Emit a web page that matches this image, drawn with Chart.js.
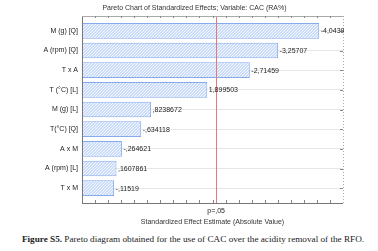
<!DOCTYPE html>
<html>
<head>
<meta charset="utf-8">
<script src="https://cdn.jsdelivr.net/npm/chart.js@4"></script>
<style>
  body { margin: 0; background: #fff; width: 378px; height: 251px; overflow: hidden; position: relative; }
  #wrap { position: absolute; left: 0; top: 0; width: 378px; height: 230px; }
  #caption { position: absolute; left: 0; width: 378px; top: 234px; text-align: center; padding-left: 4px;
    font-family: "Liberation Serif", serif; font-size: 9.2px; color: #222; white-space: nowrap; }
</style>
</head>
<body>
<div id="wrap"><canvas id="chart"></canvas></div>
<div id="caption"><b>Figure S5.</b> Pareto diagram obtained for the use of CAC over the acidity removal of the RFO.</div>
<script>
// effect terms, top to bottom
const terms = ["M (g) [Q]", "A (rpm) [Q]", "T x A", "T (°C) [L]", "M (g) [L]", "T(°C) [Q]", "A x M", "A (rpm) [L]", "T x M"]
// standardized effects (signed)
const effects = [-4.0439, -3.25707, -2.71459, 1.899503, 0.8238672, -0.634118, -0.264621, 0.1607861, -0.11519]
const xMin = -0.5
const xMax = 4.5
const pCrit = 2.069 // p=,05 line

const fmt = v => String(v).replace(".", ",").replace(/^(-?)0,/, "$1,")

function hatch() {
  const c = document.createElement("canvas")
  c.width = 3
  c.height = 3
  const g = c.getContext("2d")
  g.fillStyle = "#cadcfa"
  g.fillRect(0, 0, 3, 3)
  g.fillStyle = "#f4f8ff"
  for (let px = 0; px < 3; px++) {
    for (let py = 0; py < 3; py++) {
      if ((px + py) % 3 === 2) g.fillRect(px, py, 1, 1)
    }
  }
  return g.createPattern(c, "repeat")
}

// frame, minor ticks, critical line and value labels
const frame = {
  id: "frame",
  afterDatasetsDraw(chart) {
    const { ctx, chartArea: a, scales: { x, y } } = chart
    const top = a.top - 5, bottom = a.bottom + 5
    ctx.save()
    // red p line
    const px = Math.round(x.getPixelForValue(pCrit)) + 0.5
    ctx.strokeStyle = "#e8777a"
    ctx.lineWidth = 1
    ctx.beginPath(); ctx.moveTo(px, top); ctx.lineTo(px, bottom); ctx.stroke()
    // borders
    ctx.strokeStyle = "#777"
    ctx.beginPath()
    ctx.moveTo(a.left + 0.5, top); ctx.lineTo(a.left + 0.5, bottom)
    ctx.moveTo(a.left, bottom + 0.5); ctx.lineTo(a.right, bottom + 0.5)
    ctx.stroke()
    ctx.strokeStyle = "#aaa"
    ctx.beginPath(); ctx.moveTo(a.left, top + 0.5); ctx.lineTo(a.right, top + 0.5); ctx.stroke()
    ctx.setLineDash([1, 2])
    ctx.beginPath(); ctx.moveTo(a.right + 0.5, top); ctx.lineTo(a.right + 0.5, bottom); ctx.stroke()
    ctx.setLineDash([])
    // minor ticks
    ctx.strokeStyle = "#888"
    ctx.beginPath()
    for (let v = xMin + 0.25; v < xMax; v += 0.25) {
      const tx = Math.round(x.getPixelForValue(v)) + 0.5
      ctx.moveTo(tx, bottom); ctx.lineTo(tx, bottom - 3)
      ctx.moveTo(tx, top); ctx.lineTo(tx, top + 2)
    }
    terms.forEach((t, i) => {
      const ty = Math.round(y.getPixelForValue(i)) + 0.5
      ctx.moveTo(a.right, ty); ctx.lineTo(a.right - 3, ty)
    })
    ctx.stroke()
    // value labels
    ctx.fillStyle = "#222"
    ctx.font = "7px 'Liberation Sans', Arial, sans-serif"
    ctx.textBaseline = "middle"
    ctx.textAlign = "left"
    chart.getDatasetMeta(0).data.forEach((bar, i) => {
      ctx.fillText(fmt(effects[i]), bar.x + 1.5, bar.y + 0.5)
    })
    ctx.restore()
  }
}

new Chart(document.getElementById("chart"), {
  type: "bar",
  data: {
    labels: terms,
    datasets: [{
      data: effects.map(Math.abs),
      base: xMin,
      backgroundColor: hatch(),
      borderColor: "#86abea",
      borderWidth: 1,
      borderSkipped: false,
      barPercentage: 0.8,
      categoryPercentage: 1
    }]
  },
  plugins: [frame],
  options: {
    indexAxis: "y",
    responsive: true,
    maintainAspectRatio: false,
    animation: false,
    layout: { padding: { left: 11, right: 0, top: 0, bottom: 0 } },
    plugins: {
      legend: { display: false },
      tooltip: { enabled: false },
      title: {
        display: true,
        text: "Pareto Chart of Standardized Effects; Variable: CAC (RA%)",
        color: "#333",
        font: { size: 7, family: "'Liberation Sans', Arial, sans-serif", weight: "normal" },
        padding: { top: 4, bottom: 8.6 }
      }
    },
    scales: {
      x: {
        type: "linear",
        min: xMin,
        max: xMax,
        afterBuildTicks: s => { s.ticks = [{ value: pCrit }] },
        afterFit: s => { s.height = 32 },
        ticks: {
          callback: () => "p=,05",
          color: "#222",
          padding: 9,
          maxRotation: 0,
          font: { size: 7, family: "'Liberation Sans', Arial, sans-serif" }
        },
        grid: { display: false, drawTicks: false },
        border: { display: false },
        title: {
          display: true,
          text: "Standardized Effect Estimate (Absolute Value)",
          color: "#333",
          padding: { top: 3, bottom: 4 },
          font: { size: 7, family: "'Liberation Sans', Arial, sans-serif" }
        }
      },
      y: {
        afterFit: s => { s.width = 71 },
        ticks: {
          color: "#222",
          padding: 4,
          font: { size: 7, family: "'Liberation Sans', Arial, sans-serif" }
        },
        grid: { offset: false, color: "#e6e6e6", drawTicks: false },
        border: { display: false }
      },
      // empty right axis that leaves room for the value labels
      yR: {
        type: "category",
        axis: "y",
        position: "right",
        afterFit: s => { s.width = 35 },
        ticks: { display: false },
        grid: { display: false, drawTicks: false },
        border: { display: false }
      }
    }
  }
})
</script>
</body>
</html>
